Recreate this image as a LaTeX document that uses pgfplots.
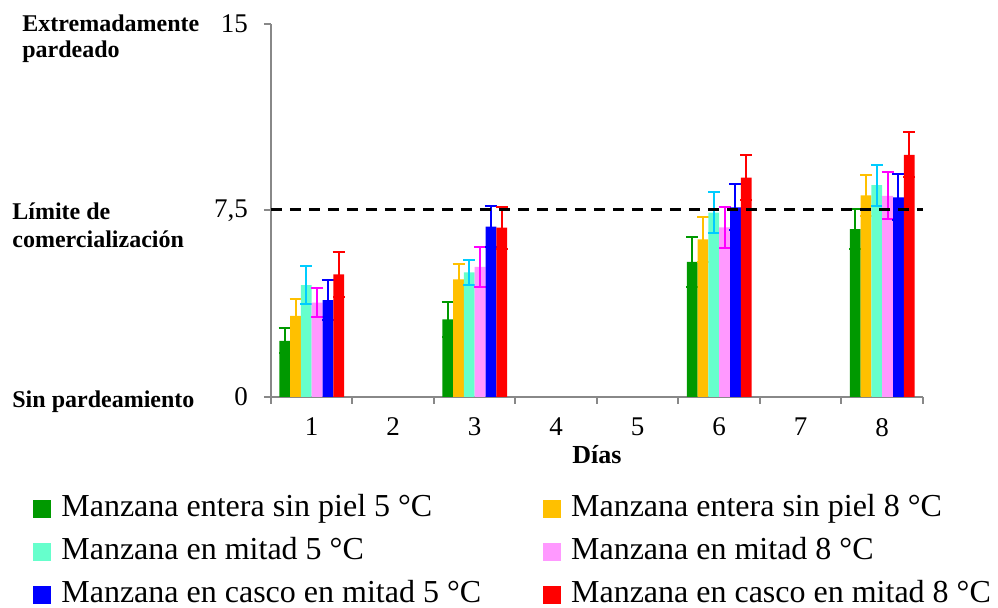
\documentclass[border=0pt]{standalone}
\usepackage{fontspec}
\setmainfont{Liberation Serif}
\usepackage{pgfplots}
\usepackage{pgfplotstable}
\pgfplotsset{compat=1.18}
\definecolor{axisgray}{HTML}{888888}
\definecolor{cg}{HTML}{009900}
\definecolor{co}{HTML}{FFC000}
\definecolor{cc}{HTML}{66FFCC}
\definecolor{ccE}{HTML}{00CCFF}
\definecolor{cp}{HTML}{FF99FF}
\definecolor{cpE}{HTML}{FF00FF}
\definecolor{cb}{HTML}{0000FF}
\definecolor{cr}{HTML}{FF0000}

\pgfplotstableread{
x y e
1 2.26 0.50
3 3.12 0.70
6 5.43 1.00
8 6.75 0.80
}\tgreen
\pgfplotstableread{
x y e
1 3.26 0.70
3 4.73 0.60
6 6.34 0.90
8 8.11 0.83
}\torange
\pgfplotstableread{
x y e
1 4.50 0.78
3 5.01 0.50
6 7.41 0.82
8 8.52 0.82
}\tcyan
\pgfplotstableread{
x y e
1 3.79 0.58
3 5.23 0.80
6 6.82 0.82
8 8.09 0.94
}\tpink
\pgfplotstableread{
x y e
1 3.90 0.80
3 6.85 0.83
6 7.63 0.93
8 8.03 0.92
}\tblue
\pgfplotstableread{
x y e
1 4.93 0.90
3 6.81 0.85
6 8.82 0.91
8 9.74 0.90
}\tred

\begin{document}
\begin{tikzpicture}
\useasboundingbox (0,0) rectangle (499pt,304pt);
\begin{axis}[
  at={(135.5pt,105.5pt)}, anchor=south west,
  scale only axis, width=326pt, height=186.5pt,
  xmin=0.5, xmax=8.5, ymin=0, ymax=15,
  axis x line*=bottom, axis y line*=left,
  axis line style={draw=axisgray, line width=1pt, -},
  tick align=outside, major tick length=3.5pt,
  tick style={draw=axisgray, line width=1pt},
  xtick={0.5,1.5,2.5,3.5,4.5,5.5,6.5,7.5,8.5},
  xticklabels={1,2,3,4,5,6,7,8,{}},
  x tick label style={xshift=20.375pt, yshift=-3.5pt},
  y tick label style={xshift=-4.5pt},
  ytick={0,7.5,15},
  yticklabels={0,{7,5},15},
  tick label style={font=\fontsize{13.5}{16}\selectfont, text=black},
  /pgf/number format/assume math mode=true,
  xlabel={Días},
  xlabel style={font=\fontsize{13}{15}\selectfont\bfseries, yshift=2.5pt},
  ybar=0pt, bar width=5.4pt,
  every axis plot post/.append style={legend image code/.code={\fill[##1, draw=none] (0pt,-4.5pt) rectangle (9pt,4.5pt);}},
  legend columns=2,
  legend style={at={(-0.3743,-0.245)}, anchor=north west, draw=none, fill=none,
    font=\fontsize{16}{19}\selectfont,
    row sep=5pt,
    nodes={inner sep=1pt, text height=11pt, text depth=3.5pt},
    /tikz/every even column/.append style={column sep=30pt},
    /tikz/every odd column/.append style={column sep=4pt}},
  legend cell align=left,
]
\addplot[fill=cg, draw=none, error bars/.cd, y dir=both, y explicit,
  error bar style={draw=cg, line width=1pt},
  error mark options={rotate=90, mark size=3pt, line width=1pt, draw=cg}]
  table[x=x, y=y, y error=e]{\tgreen};
\addlegendentry{Manzana entera sin piel 5 °C}
\addplot[fill=co, draw=none, error bars/.cd, y dir=both, y explicit,
  error bar style={draw=co, line width=1pt},
  error mark options={rotate=90, mark size=3pt, line width=1pt, draw=co}]
  table[x=x, y=y, y error=e]{\torange};
\addlegendentry{Manzana entera sin piel 8 °C}
\addplot[fill=cc, draw=none, error bars/.cd, y dir=both, y explicit,
  error bar style={draw=ccE, line width=1pt},
  error mark options={rotate=90, mark size=3pt, line width=1pt, draw=ccE}]
  table[x=x, y=y, y error=e]{\tcyan};
\addlegendentry{Manzana en mitad 5 °C}
\addplot[fill=cp, draw=none, error bars/.cd, y dir=both, y explicit,
  error bar style={draw=cpE, line width=1pt},
  error mark options={rotate=90, mark size=3pt, line width=1pt, draw=cpE}]
  table[x=x, y=y, y error=e]{\tpink};
\addlegendentry{Manzana en mitad 8 °C}
\addplot[fill=cb, draw=none, error bars/.cd, y dir=both, y explicit,
  error bar style={draw=cb, line width=1pt},
  error mark options={rotate=90, mark size=3pt, line width=1pt, draw=cb}]
  table[x=x, y=y, y error=e]{\tblue};
\addlegendentry{Manzana en casco en mitad 5 °C}
\addplot[fill=cr, draw=none, error bars/.cd, y dir=both, y explicit,
  error bar style={draw=cr, line width=1pt},
  error mark options={rotate=90, mark size=3pt, line width=1pt, draw=cr}]
  table[x=x, y=y, y error=e]{\tred};
\addlegendentry{Manzana en casco en mitad 8 °C}
\addplot[sharp plot, forget plot, draw=black, fill=none, line width=1.5pt,
  dash pattern=on 5.3pt off 4.2pt] coordinates {(0.5,7.55) (8.5,7.55)};
\end{axis}
\begin{scope}[every node/.style={font=\fontsize{12}{14}\selectfont\bfseries, inner sep=0pt, anchor=base west}]
\node at (11pt,288pt) {Extremadamente};
\node at (11pt,275pt) {pardeado};
\node at (6pt,194pt) {Límite de};
\node at (6pt,180pt) {comercialización};
\node at (6pt,100pt) {Sin pardeamiento};
\end{scope}
\end{tikzpicture}
\end{document}
